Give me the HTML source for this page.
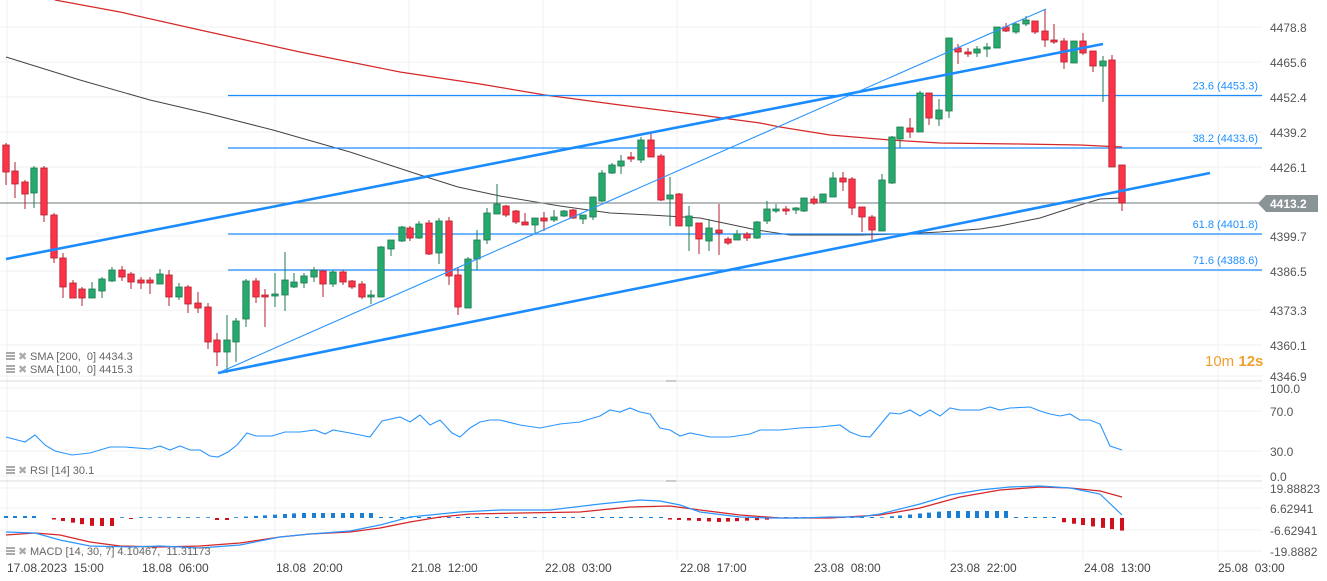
<!DOCTYPE html>
<html><head><meta charset="utf-8"><style>
html,body{margin:0;padding:0;background:#fff;}
svg{display:block;font-family:"Liberation Sans",sans-serif;}
</style></head><body>
<svg id="c" width="1327" height="581" xmlns="http://www.w3.org/2000/svg"></svg>
<script>
const s=document.getElementById('c');let h='';
[7,141,275,409,543,677,811,945,1083,1218].forEach(x=>{h+=`<line x1="${x}" y1="0" x2="${x}" y2="560" stroke="#f0f0f0"/>`;});
[[4478.8,27],[4465.6,62],[4452.4,97],[4439.2,132],[4426.1,167],[4399.7,236],[4386.5,271],[4373.3,310],[4360.1,345],[4346.9,376]].forEach(([v,y])=>{
h+=`<line x1="0" y1="${y}" x2="1262" y2="${y}" stroke="#f0f0f0"/>`;
h+=`<text x="1270" y="${y+5}" font-size="12" fill="#555">${v.toFixed(1)}</text>`;});
h+=`<line x1="0" y1="381" x2="1262" y2="381" stroke="#ddd"/><line x1="0" y1="481" x2="1262" y2="481" stroke="#ddd"/>`;
h+=`<line x1="666" y1="381" x2="676" y2="381" stroke="#999"/><line x1="666" y1="481" x2="676" y2="481" stroke="#999"/>`;
[[100,388,'100.0'],[70,411,'70.0'],[30,451,'30.0'],[0,476,'0.0']].forEach(([v,y,t])=>{h+=`<line x1="0" y1="${y}" x2="1262" y2="${y}" stroke="#f0f0f0"/><text x="1270" y="${y+5}" font-size="12" fill="#555">${t}</text>`;});
[[488,'19.88823'],[508,'6.62941'],[530,'-6.62941'],[551,'-19.8882']].forEach(([y,t])=>{h+=`<line x1="0" y1="${y}" x2="1262" y2="${y}" stroke="#f0f0f0"/><text x="1270" y="${y+5}" font-size="12" fill="#555">${t}</text>`;});
const pl=(pts,c,w)=>`<polyline fill="none" stroke="${c}" stroke-width="${w}" points="${pts.map(p=>p.join(',')).join(' ')}"/>`;
h+=pl([[55,0],[120,12],[200,30],[300,52],[400,72],[480,84],[545,95],[620,105],[700,115],[760,123],[780,127],[830,135],[890,140],[940,143],[1020,144],[1080,145],[1122,147]],'#d62728',1.2);
h+=pl([[6,57],[80,80],[150,100],[210,114],[273,130],[350,152],[420,175],[458,187],[500,196],[560,206],[610,213],[650,215],[700,218],[757,230],[790,235],[860,235],[900,234],[940,232],[980,229],[1000,226],[1040,218],[1080,205],[1100,199],[1122,198]],'#444',1);
[[95.5,'23.6 (4453.3)'],[148,'38.2 (4433.6)'],[234,'61.8 (4401.8)'],[270,'71.6 (4388.6)']].forEach(([y,t])=>{h+=`<line x1="228" y1="${y}" x2="1262" y2="${y}" stroke="#1a8cff" stroke-width="1.2"/><text x="1258" y="${y-6}" font-size="11" fill="#1e90ff" text-anchor="end">${t}</text>`;});
h+=`<line x1="0" y1="203" x2="1262" y2="203" stroke="#8a9396" stroke-width="1.2"/>`;
h+=`<polygon points="1258,203.5 1266,195 1318,195 1318,212 1266,212" fill="#8a9396"/><text x="1270" y="208" font-size="12" font-weight="bold" fill="#fff">4413.2</text>`;
const C=[[6,145,172,143,185,0],[15,171,184,162,198,0],[25,182,194,180,209,0],[34,193,168,166,208,1],[44,168,215,166,222,0],[54,215,258,213,263,0],[63,258,287,253,298,0],[73,283,298,280,298,0],[82,289,298,287,306,0],[92,298,289,282,298,1],[102,291,279,277,298,1],[112,281,270,267,282,1],[122,270,277,266,281,0],[131,274,282,272,289,0],[141,280,283,277,289,0],[150,280,283,277,294,0],[160,284,274,269,284,1],[169,275,297,270,306,0],[179,297,287,283,300,1],[188,287,304,285,313,0],[198,303,308,292,313,0],[208,307,342,303,349,0],[217,340,352,333,366,0],[227,352,340,315,373,1],[236,342,321,318,362,1],[246,319,281,279,327,1],[256,281,297,278,303,0],[265,295,297,289,327,0],[275,296,294,273,307,1],[285,295,280,252,311,1],[294,287,282,273,288,1],[304,283,276,273,288,1],[314,277,270,267,282,1],[323,271,284,270,297,0],[333,284,272,270,287,1],[343,272,282,270,285,0],[352,281,287,280,289,0],[362,284,297,281,299,0],[371,297,295,290,304,1],[381,297,247,246,297,1],[391,249,240,240,256,1],[402,241,227,226,242,1],[410,228,238,226,241,0],[419,238,224,221,239,1],[429,223,254,220,255,0],[439,253,221,218,264,1],[449,221,276,217,285,0],[458,275,307,268,315,0],[468,308,259,257,308,1],[477,259,240,230,270,1],[487,240,213,208,244,1],[497,214,204,184,214,1],[506,206,215,205,217,0],[516,211,222,210,224,0],[525,222,225,213,225,0],[535,225,218,218,233,1],[544,218,221,212,231,0],[554,220,217,210,222,1],[564,216,211,210,217,1],[573,210,218,209,219,0],[583,219,215,215,224,1],[593,217,197,197,220,1],[602,201,173,170,202,1],[612,173,165,163,174,1],[621,166,161,155,174,1],[631,157,159,152,162,0],[641,160,140,137,163,1],[651,140,157,133,157,0],[661,156,200,154,201,0],[670,199,195,177,226,1],[679,194,226,193,226,0],[689,226,216,206,251,1],[699,223,239,223,254,0],[709,241,228,219,251,1],[719,230,233,204,255,0],[728,239,243,237,245,0],[737,240,234,230,240,1],[747,234,238,232,241,0],[757,238,222,221,239,1],[767,221,209,201,224,1],[776,211,209,204,213,1],[786,209,211,206,215,0],[796,210,208,207,214,1],[804,211,198,198,212,1],[814,199,203,196,205,0],[823,202,194,194,203,1],[833,197,178,172,197,1],[843,178,182,172,191,0],[852,179,208,177,215,0],[862,207,217,207,232,0],[872,217,230,215,240,0],[882,231,180,174,231,1],[892,183,137,136,184,1],[900,139,127,127,148,1],[910,128,132,118,138,0],[920,132,93,91,132,1],[929,93,118,93,125,0],[939,119,110,99,126,1],[949,111,38,38,118,1],[958,48,52,44,64,0],[968,52,54,48,57,0],[977,53,49,46,57,1],[987,49,47,43,57,1],[997,48,27,27,48,1],[1006,27,31,23,32,0],[1016,32,24,23,34,1],[1026,24,20,16,26,1],[1035,21,32,21,34,0],[1045,31,40,9,47,0],[1054,40,42,24,44,0],[1064,41,62,38,69,0],[1074,63,41,41,63,1],[1083,41,53,33,55,0],[1093,51,66,51,72,0],[1103,66,61,56,102,1],[1112,60,167,55,167,0],[1122,165,203,165,211,0]];
C.forEach(([x,o,c,hi,lo,g])=>{const f=g?'#26a96c':'#ff3347',st=g?'#1d7a4f':'#b0202e';const t=Math.min(o,c),b=Math.max(o,c,t+2);
h+=`<line x1="${x}" y1="${hi}" x2="${x}" y2="${lo}" stroke="${st}" stroke-width="1"/><rect x="${x-3.2}" y="${t}" width="6.4" height="${b-t}" fill="${f}" stroke="${st}" stroke-width="0.8"/>`;});
h+=`<line x1="6" y1="259" x2="1103" y2="44" stroke="#1a8cff" stroke-width="2.6"/>`;
h+=`<line x1="218" y1="373" x2="1210" y2="173" stroke="#1a8cff" stroke-width="2.6"/>`;
h+=`<line x1="218" y1="373" x2="1046" y2="9" stroke="#2a95ff" stroke-width="1.1"/>`;
h+=pl([[6,437],[25,442],[35,435],[45,445],[55,451],[72,455],[90,453],[110,447],[125,447],[150,449],[160,446],[170,450],[180,446],[190,450],[200,450],[210,456],[218,457],[228,452],[237,445],[247,433],[256,436],[272,436],[285,432],[300,432],[315,430],[325,434],[333,430],[350,433],[370,437],[382,421],[400,417],[410,422],[420,415],[430,425],[440,420],[452,433],[460,437],[470,428],[480,422],[490,420],[500,420],[520,425],[540,428],[560,424],[580,422],[600,416],[610,410],[620,412],[630,408],[640,412],[650,414],[660,428],[670,430],[680,436],[690,433],[710,437],[730,437],[750,434],[760,430],[780,430],[800,428],[820,427],[840,425],[850,432],[860,436],[870,437],[880,425],[890,413],[900,414],[910,410],[920,416],[930,410],[940,416],[950,408],[960,410],[980,410],[990,407],[1000,410],[1010,408],[1030,407],[1040,411],[1050,414],[1060,416],[1070,414],[1080,420],[1090,420],[1100,424],[1110,446],[1122,450]],'#2a95ff',1.1);
C.forEach(([x])=>{let v=0;
if(x<40)v=2;else if(x<50)v=0;else if(x<120)v=-Math.min(8,(x-45)/6);else if(x<240)v=(x>210&&x<232)?-2:(x>130&&x<140)?-1:0.8;
else if(x<375)v=Math.min(5,(x-240)/15+1);else if(x<670)v=1;else if(x<770)v=-4+Math.abs(x-720)/20;else if(x<880)v=1;
else if(x<1010)v=Math.min(7,(x-875)/10);else if(x<1055)v=1;else v=-(3+(x-1055)/7);
if(v===0)return;const y0=518;if(v>0)h+=`<rect x="${x-2}" y="${y0-v}" width="4" height="${v}" fill="#1a7fd4"/>`;else h+=`<rect x="${x-2}" y="${y0}" width="4" height="${-v}" fill="#d0101c"/>`;});
h+=pl([[6,535],[35,533],[60,535],[90,542],[120,546],[160,547],[200,546],[240,543],[280,537],[310,534],[350,532],[380,528],[410,522],[440,517],[470,514],[520,513],[580,512],[630,507],[670,506],[700,510],[740,515],[780,518],[830,518],[880,515],[920,508],[960,497],[1000,490],[1040,487],[1070,488],[1100,491],[1122,497]],'#d62728',1.3);
h+=pl([[6,532],[35,533],[60,540],[90,546],[130,547],[160,546],[200,548],[240,545],[280,537],[310,534],[350,531],[380,525],[410,517],[440,514],[460,512],[500,510],[550,510],[600,504],[640,500],[660,501],[680,505],[700,512],[740,517],[770,518],[800,518],[830,517],[860,517],[880,514],[920,504],[950,495],[980,490],[1010,487],[1040,486],[1070,488],[1100,494],[1122,515]],'#2a95ff',1.2);
const leg=(y,t)=>`<rect x="6" y="${y-8}" width="9" height="2" fill="#aaa"/><rect x="6" y="${y-5}" width="9" height="2" fill="#aaa"/><rect x="6" y="${y-2}" width="9" height="2" fill="#aaa"/><text x="18" y="${y}" font-size="11" fill="#aaa">✖</text><text x="30" y="${y}" font-size="11" fill="#666">${t}</text>`;
h+=leg(360,'SMA [200,&#160;&#160;0] 4434.3')+leg(373,'SMA [100,&#160;&#160;0] 4415.3')+leg(474,'RSI [14] 30.1')+leg(555,'MACD [14,&#160;30,&#160;7] 4.10467,&#160;&#160;11.31173');
h+=`<text x="1205" y="366" font-size="15" fill="#f0a030">10m <tspan font-weight="bold">12s</tspan></text>`;
[[7,'17.08.2023&#160;&#160;15:00'],[142,'18.08&#160;&#160;06:00'],[276,'18.08&#160;&#160;20:00'],[411,'21.08&#160;&#160;12:00'],[545,'22.08&#160;&#160;03:00'],[680,'22.08&#160;&#160;17:00'],[814,'23.08&#160;&#160;08:00'],[950,'23.08&#160;&#160;22:00'],[1084,'24.08&#160;&#160;13:00'],[1218,'25.08&#160;&#160;03:00']].forEach(([x,t])=>{h+=`<text x="${x}" y="572" font-size="12" fill="#444">${t}</text>`;});
s.innerHTML=h;
</script>
</body></html>
